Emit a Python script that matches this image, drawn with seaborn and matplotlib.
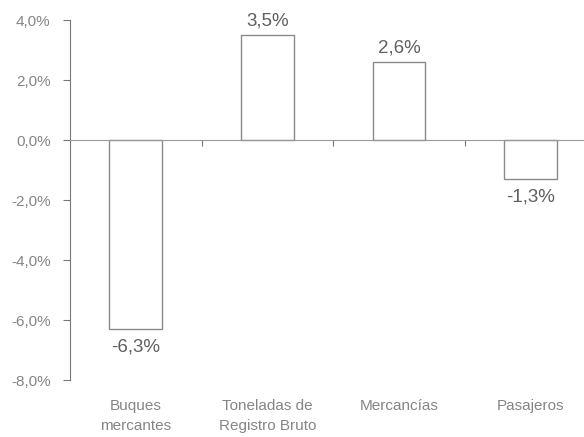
import matplotlib
matplotlib.use("Agg")
import matplotlib.pyplot as plt
import seaborn as sns
import pandas as pd

categorias = ["Buques\nmercantes", "Toneladas de\nRegistro Bruto", "Mercancías", "Pasajeros"]
variacion = [-6.3, 3.5, 2.6, -1.3]
etiquetas = ["-6,3%", "3,5%", "2,6%", "-1,3%"]
yticks = [4, 2, 0, -2, -4, -6, -8]
ytick_labels = ["4,0%", "2,0%", "0,0%", "-2,0%", "-4,0%", "-6,0%", "-8,0%"]

sns.set_style("white")
plt.rcParams["font.family"] = ["Liberation Sans", "DejaVu Sans"]

gris = "#858585"
df = pd.DataFrame({"cat": categorias, "val": variacion})

fig = plt.figure(figsize=(5.84, 4.37), dpi=100)
ax = fig.add_axes([70 / 584, 57 / 437, 520 / 584, 360 / 437])

sns.barplot(data=df, x="cat", y="val", color="white", edgecolor="#8a8a8a",
            linewidth=1, width=0.4, ax=ax, saturation=1)

ax.set_ylim(-8, 4)
ax.set_xlim(-0.5, 3.45)
ax.set_yticks(yticks)
ax.set_yticklabels(ytick_labels, fontsize=11, color=gris)
ax.set_xlabel("")
ax.set_ylabel("")

# eje x sobre el cero, con marcas entre categorías
ax.spines["bottom"].set_position(("data", 0))
ax.spines["bottom"].set_color("#999999")
ax.spines["left"].set_color("#777777")
ax.spines["top"].set_visible(False)
ax.spines["right"].set_visible(False)
ax.set_xticks([0.5, 1.5, 2.5])
ax.set_xticklabels([])
ax.tick_params(axis="x", which="major", direction="out", length=4, color="#777777", bottom=True)
ax.tick_params(axis="y", direction="out", length=5, color="#777777", left=True, pad=9)

for i, (v, lab) in enumerate(zip(variacion, etiquetas)):
    if v >= 0:
        ax.annotate(lab, (i, v), xytext=(0, 4), textcoords="offset points",
                    ha="center", va="bottom", fontsize=13.5, color="#606060")
    else:
        ax.annotate(lab, (i, v), xytext=(0, -6.5), textcoords="offset points",
                    ha="center", va="top", fontsize=13.5, color="#606060")

for i, c in enumerate(categorias):
    ax.annotate(c, (i, -8), xytext=(0, -14), textcoords="offset points",
                ha="center", va="top", fontsize=11, color=gris, linespacing=1.5)

fig.savefig("out.png", dpi=100)
